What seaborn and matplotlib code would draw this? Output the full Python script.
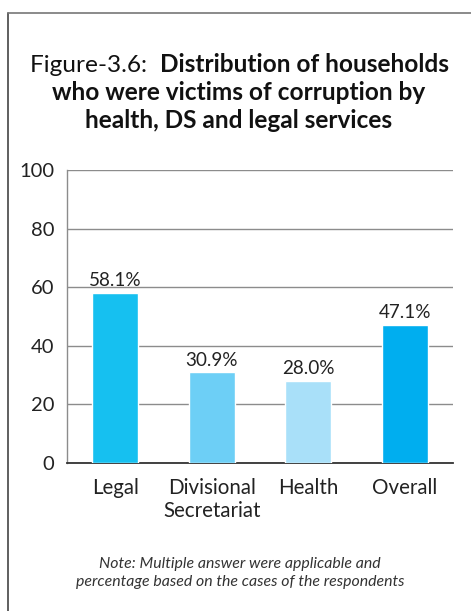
import matplotlib
matplotlib.use("Agg")
import matplotlib.pyplot as plt
from matplotlib.lines import Line2D
import seaborn as sns
import pandas as pd

categories = ["Legal", "Divisional\nSecretariat", "Health", "Overall"]
values = [58.1, 30.9, 28.0, 47.1]
colors = ["#16C0F0", "#6DCFF6", "#A9E0F9", "#00AEEF"]
yticks = [0, 20, 40, 60, 80, 100]

sns.set_theme(style="white")
plt.rcParams["font.family"] = ["Lato", "DejaVu Sans"]

df = pd.DataFrame({"category": categories, "value": values})

fig = plt.figure(figsize=(4.71, 6.11), dpi=100)
ax = fig.add_axes([67 / 471, 1 - 463 / 611, (453 - 67) / 471, (463 - 170) / 611])

sns.barplot(data=df, x="category", y="value", hue="category",
            palette=colors, saturation=1, width=0.48, legend=False, ax=ax, zorder=3)

ax.set_ylim(0, 100)
ax.set_xlim(-0.5, len(categories) - 0.5)
ax.set_yticks(yticks)
ax.set_yticklabels([str(t) for t in yticks], fontsize=14.5, color="#222222")
ax.tick_params(axis="y", length=0, pad=9)
ax.grid(axis="y", color="#8c8c8c", linewidth=1.0, zorder=0)
ax.set_axisbelow(True)

ax.set_xticks(range(len(categories)))
ax.set_xticklabels(categories, fontsize=14.8, color="#222222", linespacing=1.15)
ax.tick_params(axis="x", length=0, pad=11)
ax.set_xticks([i - 0.5 for i in range(len(categories) + 1)], minor=True)
ax.tick_params(axis="x", which="minor", direction="in", length=7, width=1, color="#444444")
ax.set_xlabel("")
ax.set_ylabel("")

for side in ["top", "right"]:
    ax.spines[side].set_visible(False)
ax.spines["left"].set_color("#8c8c8c")
ax.spines["left"].set_linewidth(1.0)
ax.spines["bottom"].set_color("#333333")
ax.spines["bottom"].set_linewidth(1.3)

for i, v in enumerate(values):
    ax.text(i, v + 1.2, f"{v:.1f}%", ha="center", va="bottom", fontsize=13.6, color="#222222")

# Title: plain prefix followed by bold heading
title_size = 17.6
prefix = fig.text(0, 1 - 72 / 611, "Figure-3.6:  ", fontsize=title_size, ha="left", va="baseline", color="#111111")
title_lines = ["Distribution of households", "who were victims of corruption by", "health, DS and legal services"]
t1 = fig.text(0, 1 - 72 / 611, title_lines[0], fontsize=title_size, fontweight="bold", ha="left", va="baseline", color="#111111")
fig.canvas.draw()
r = fig.canvas.get_renderer()
pw = prefix.get_window_extent(r).width
w1 = t1.get_window_extent(r).width
x0 = (479 - (pw + w1)) / 2
prefix.set_x(x0 / 471)
t1.set_x((x0 + pw) / 471)
fig.text(239 / 471, 1 - 100 / 611, title_lines[1], fontsize=title_size, fontweight="bold", ha="center", va="baseline", color="#111111")
fig.text(239 / 471, 1 - 128 / 611, title_lines[2], fontsize=title_size, fontweight="bold", ha="center", va="baseline", color="#111111")

fig.text(240 / 471, 1 - 573 / 611, "Note: Multiple answer were applicable and\npercentage based on the cases of the respondents",
         fontsize=11.4, style="italic", ha="center", va="center", color="#333333", linespacing=1.35)

# Frame lines on the left and top edges
fig.add_artist(Line2D([7.5 / 471, 7.5 / 471], [0, 1 - 12.5 / 611], transform=fig.transFigure, color="#444444", linewidth=1.2))
fig.add_artist(Line2D([7.5 / 471, 1], [1 - 12.5 / 611, 1 - 12.5 / 611], transform=fig.transFigure, color="#777777", linewidth=1.2))

fig.savefig("out.png", dpi=100)
